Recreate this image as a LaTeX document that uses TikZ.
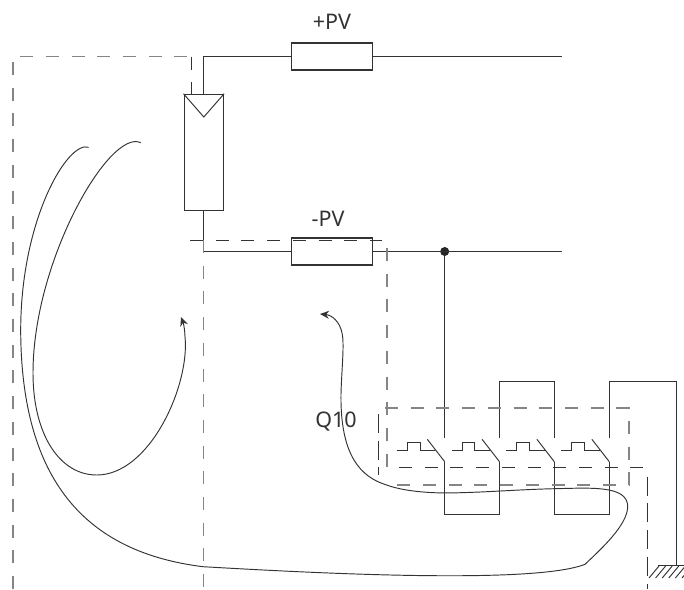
\documentclass[tikz,border=0pt]{standalone}
\usepackage{fontspec}
\setmainfont{Noto Sans}
\usetikzlibrary{arrows.meta,positioning}

\definecolor{wirecol}{gray}{0.2}
\tikzset{
	wire/.style={draw=wirecol, line width=1.1pt},
	thin wire/.style={draw=wirecol, line width=0.95pt},
	link/.style={draw=wirecol!60!white, line width=1.3pt, dash pattern=on 13pt off 12.7pt},
	dark link/.style={draw=wirecol, line width=1pt, dash pattern=on 13pt off 12.7pt},
	long link/.style={draw=wirecol, line width=1pt, dash pattern=on 19pt off 7.7pt},
	fuse/.style={draw=wirecol, line width=1.1pt, fill=white, minimum width=81pt, minimum height=27pt, inner sep=0pt},
	panel/.style={draw=wirecol, line width=1.1pt, minimum width=39.5pt, minimum height=116pt, inner sep=0pt},
	label/.style={text=wirecol, font=\fontsize{21.5}{24}\selectfont, inner sep=0pt},
	flow/.style={-{Stealth[length=9pt,width=8pt]}}
}

\begin{document}
\begin{tikzpicture}[x=1pt, y=-1pt]
	\useasboundingbox (0, 0) rectangle (684, 589);

	\node [panel] (pvpanel) at (203.8, 152.3) {};
	\node [fuse] (fusepos) at (331.8, 56.5) {};
	\node [fuse] (fuseneg) at (331.8, 251.5) {};
	\node [label] (labelpos) at (332, 22) {+PV};
	\node [label] (labelneg) at (328, 219) {-PV};
	\node [label] (labelq) at (336, 422) {Q10};

	\coordinate (topcorner) at (203.8, 56.5);
	\coordinate (botcorner) at (203.8, 251.5);
	\coordinate (posend) at (562, 56.5);
	\coordinate (negend) at (562, 251.5);
	\node [circle, fill=black!85, inner sep=0pt, minimum size=9pt] (junction) at (444.7, 251.5) {};

	% strings to the two fuses
	\draw [wire] (pvpanel.north) to (topcorner) to (fusepos.west);
	\draw [wire] (fusepos.east) to (posend);
	\draw [wire] (pvpanel.south) to (botcorner) to (fuseneg.west);
	\draw [wire] (fuseneg.east) to (negend);
	\draw [thin wire] (pvpanel.north west) to (203.8, 117) to (pvpanel.north east);

	% switch poles
	\foreach \i/\px in {1/444.7, 2/499.5, 3/554.3, 4/609.3} {
		\coordinate (in\i) at (\px, 438);
		\coordinate (out\i) at (\px, 461.7);
		\draw [thin wire] (\px - 17.4, 439.3) to (out\i);
		\draw [thin wire] (\px - 48, 450.7) -- (\px - 37.4, 450.7) -- (\px - 37.4, 442)
			-- (\px - 24.7, 442) -- (\px - 24.7, 450.7) -- (\px - 9.5, 450.7);
	}

	% jumpers on both sides
	\draw [wire] (junction) to (in1);
	\draw [wire] (in2) -- (499.5, 381.7) -- (554.3, 381.7) -- (in3);
	\draw [wire] (out1) -- (444.7, 514.3) -- (499.5, 514.3) -- (out2);
	\draw [wire] (out3) -- (554.3, 514.3) -- (609.3, 514.3) -- (out4);
	\coordinate (ground) at (676.3, 565.7);
	\draw [wire] (in4) -- (609.3, 381.7) -- (676.3, 381.7) -- (ground);

	% ground
	\draw [wire] (658, 565.7) to (684, 565.7);
	\foreach \hx in {0, 6.6, ..., 34} {
		\draw [thin wire] (649 + \hx, 578) to (659 + \hx, 566);
	}

	% dashed loops
	\draw [link] (13, 589) -- (13, 56.5) -- (191.7, 56.5);
	\draw [dark link] (191.7, 56.5) to (191.7, 94.3);
	\draw [dark link] (190, 240) to (382, 240);
	\draw [link] (203.8, 240) to (203.8, 589);
	\draw [link] (387, 248) to (387, 467);
	\draw [link] (385, 408) -- (629, 408) -- (629, 485) -- (386, 485);
	\draw [long link] (378, 414) to (378, 475);
	\draw [dark link] (399, 467.3) to (644, 467.3);
	\draw [long link] (647.7, 476.7) to (647.7, 589);

	% loop areas
	\draw [thin wire, flow] (88.7, 147.3) .. controls (68, 140) and (20, 220) .. (20.7, 333)
		.. controls (22, 480) and (85, 552) .. (203, 566.7)
		.. controls (280, 571) and (530, 586) .. (585, 564.3)
		.. controls (600, 550) and (628, 525) .. (627.7, 506)
		.. controls (627, 485) and (590, 488) .. (554, 488.7)
		.. controls (520, 489.5) and (490, 492) .. (460, 492.7)
		.. controls (425, 494) and (400, 490) .. (386.7, 485)
		.. controls (360, 477) and (342, 455) .. (341, 402)
		.. controls (340.5, 380) and (345, 345) .. (342, 333)
		.. controls (340, 322) and (332, 315) .. (320, 314);
	\draw [thin wire, flow] (140.7, 142.7) .. controls (110, 128) and (33, 260) .. (33, 373)
		.. controls (33, 435) and (60, 475) .. (96.7, 475)
		.. controls (150, 475) and (190, 385) .. (185, 336.7)
		.. controls (184.7, 330) and (184, 325) .. (181, 317);
\end{tikzpicture}
\end{document}
